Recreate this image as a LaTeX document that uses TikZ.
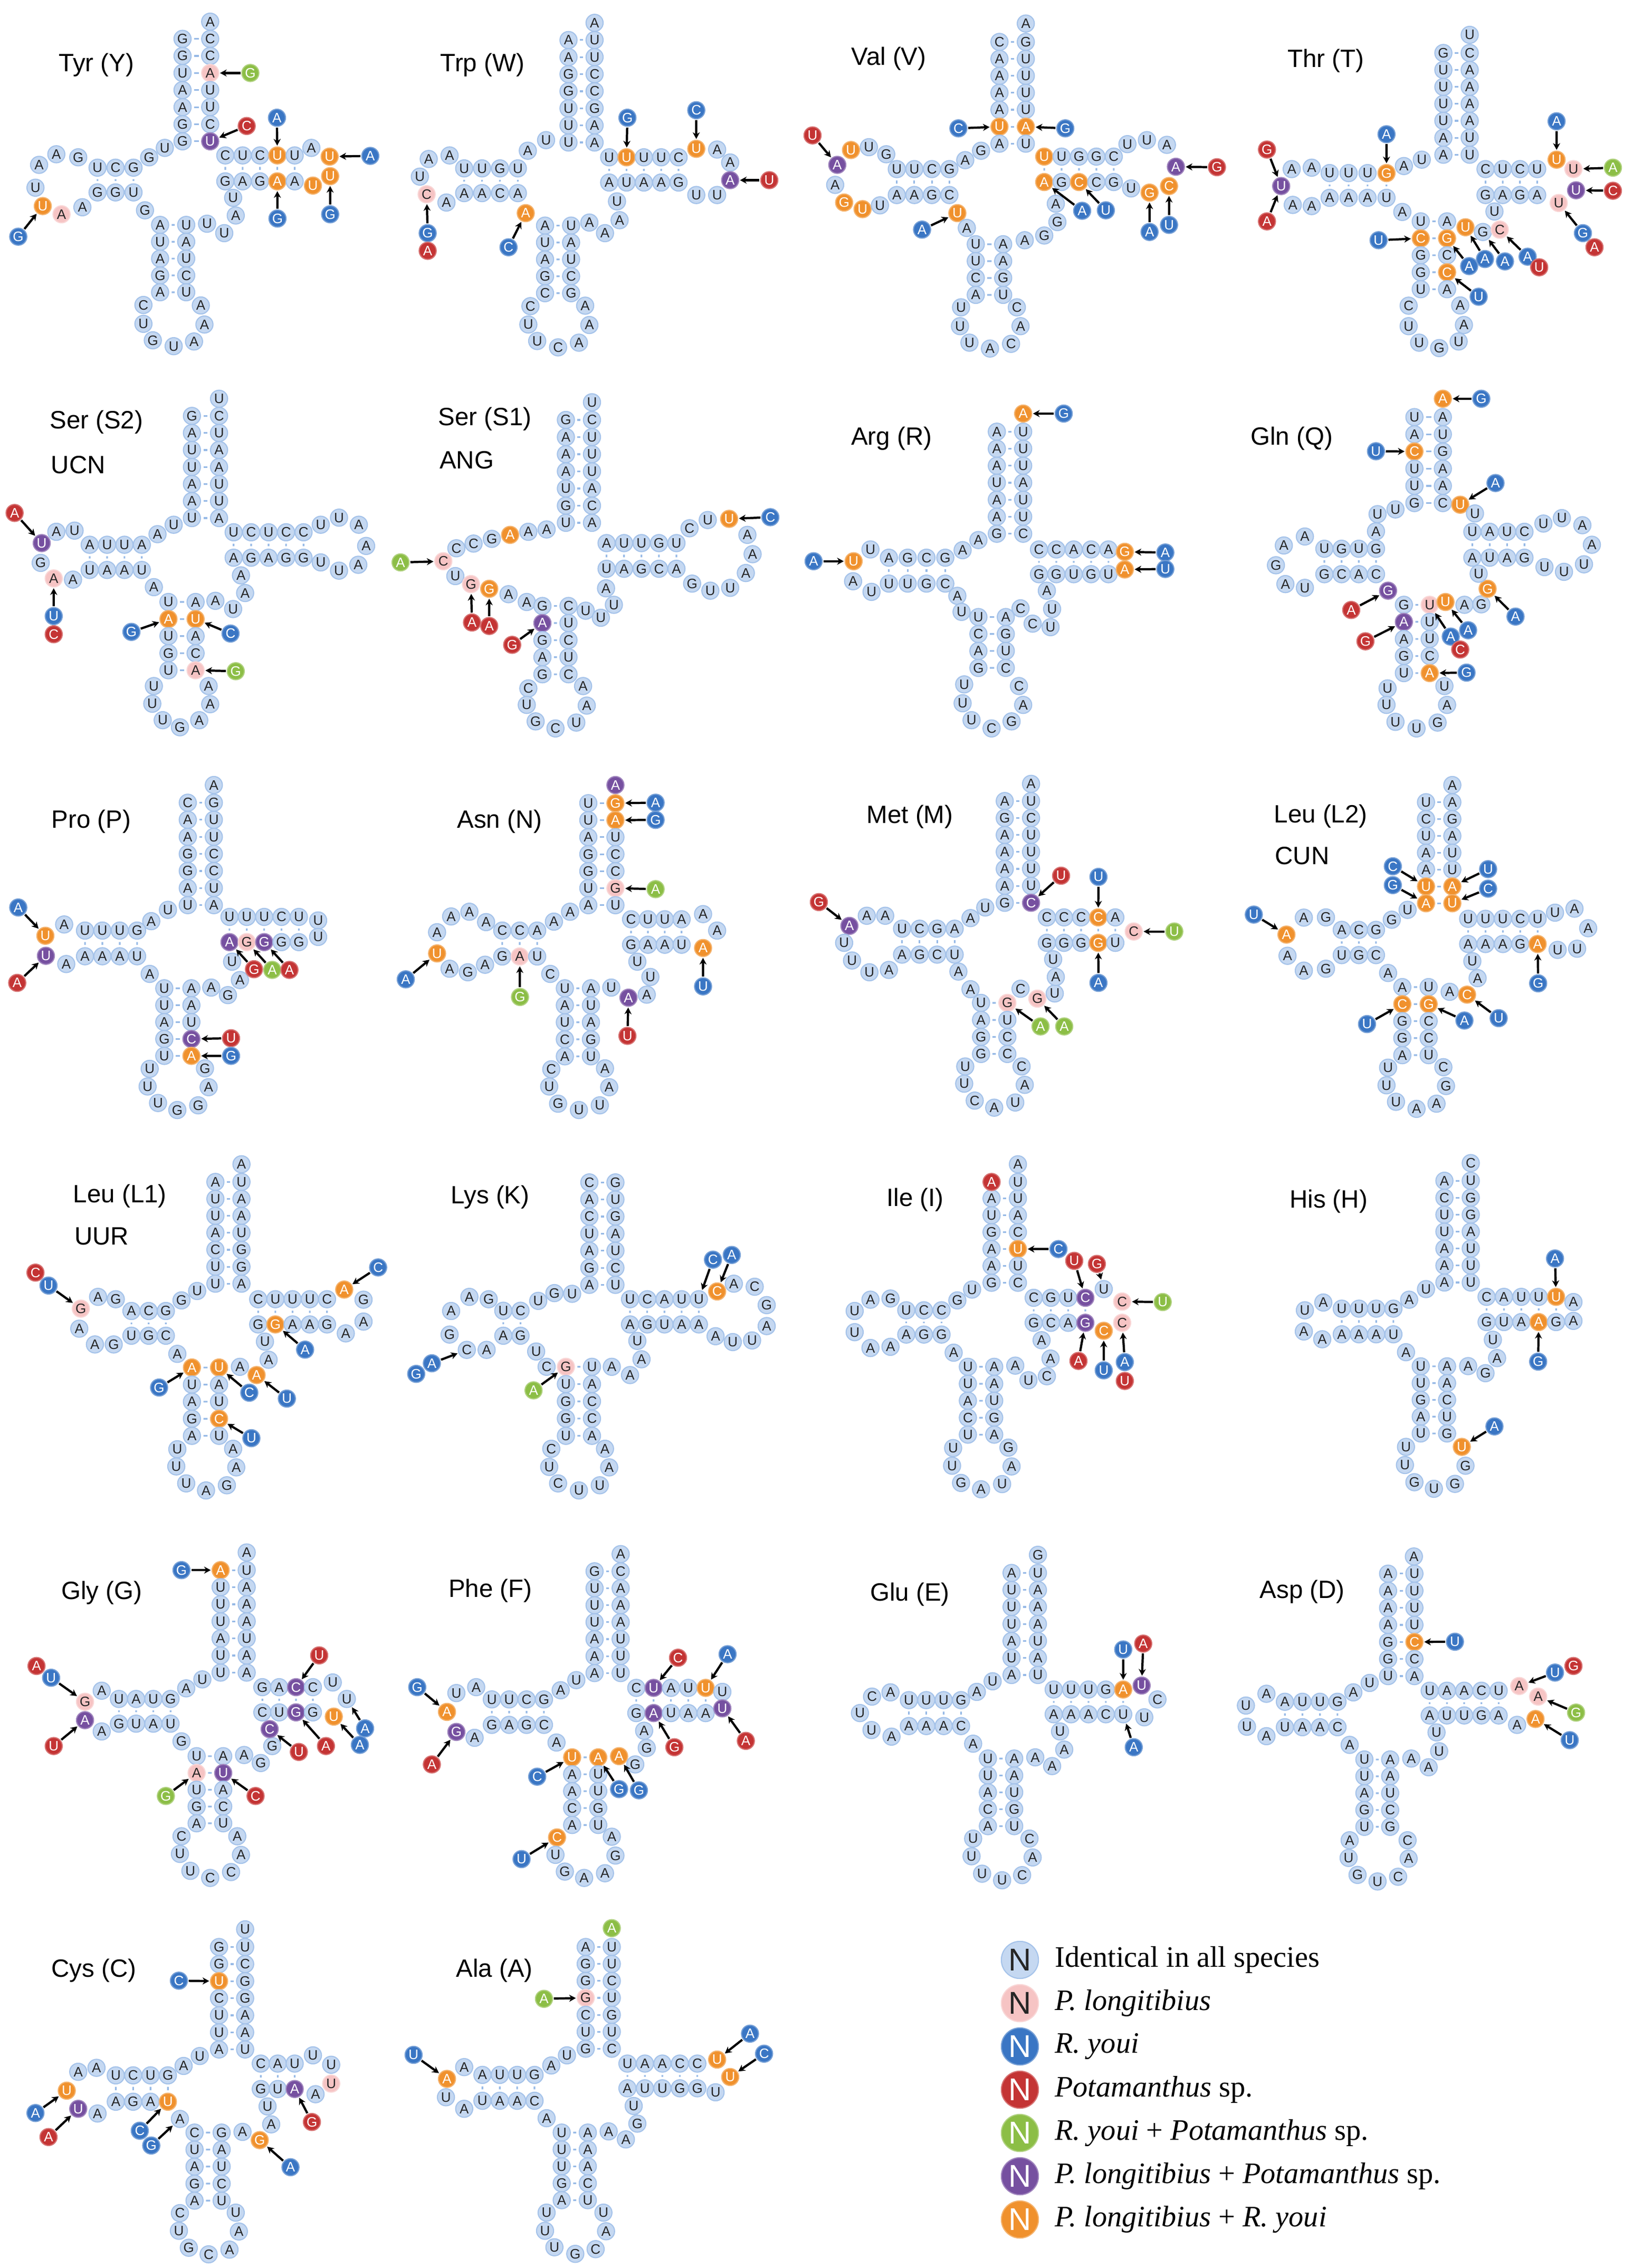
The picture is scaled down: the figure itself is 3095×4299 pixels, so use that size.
\documentclass[tikz,border=0pt]{standalone}
\usepackage{fontspec}
\setmainfont{Liberation Sans}
\newfontfamily\keyfont{Liberation Serif}
\usetikzlibrary{arrows.meta}

\definecolor{ntfill}{RGB}{197,216,241}
\definecolor{ntedge}{RGB}{165,195,234}
\definecolor{bondblue}{RGB}{150,185,230}
\definecolor{plong}{RGB}{246,196,196}
\definecolor{ryoui}{RGB}{58,118,196}
\definecolor{potam}{RGB}{196,52,52}
\definecolor{rypot}{RGB}{140,190,70}
\definecolor{plpot}{RGB}{118,80,160}
\definecolor{plry}{RGB}{240,145,45}

\tikzset{
  nt/.style={circle, inner sep=0pt, minimum size=9.2pt, line width=0.6pt, font=\fontsize{7.4}{7.4}\selectfont},
  ntn/.style={nt, fill=ntfill, draw=ntedge, text=black!85},
  ntp/.style={nt, fill=plong, draw=plong!70!white, text=black!85},
  ntb/.style={nt, fill=ryoui, draw=ryoui!70!white, text=white},
  ntr/.style={nt, fill=potam, draw=potam!70!white, text=white},
  ntg/.style={nt, fill=rypot, draw=rypot!70!white, text=white},
  ntv/.style={nt, fill=plpot, draw=plpot!70!white, text=white},
  nto/.style={nt, fill=plry, draw=plry!70!white, text=white},
  bond/.style={draw=bondblue, line width=0.9pt, shorten <=1.3pt, shorten >=1.3pt},
  subst/.style={draw=black, line width=1.2pt, -{Stealth[length=3.6pt,width=3.8pt]}, shorten <=0.4pt, shorten >=0.4pt},
  trnaname/.style={font=\fontsize{13.5}{16}\selectfont},
  keydot/.style={minimum size=20pt, font=\fontsize{17}{17}\selectfont},
  keytext/.style={anchor=west, font=\keyfont\fontsize{16}{19}\selectfont},
  zl/.style={shift={(0,#1)}, xscale=0.9885, yscale=0.4464},
  zr/.style={shift={(1530,#1)}, xscale=0.998, yscale=0.4464}
}

\def\ntsplit#1#2\relax{\ifx\relax#2\relax\def\ntcode{n}\def\ntletter{#1}\else\def\ntcode{#1}\def\ntletter{#2}\fi}
\newcommand\ntparse[1]{\expandafter\ntsplit#1\relax}
\newcommand\ntrow[6]{%
  \foreach \s [count=\k] in {#6}{%
    \ntparse{\s}%
    \edef\ntdo{\noexpand\node[nt\ntcode] (#1-\k) at ({#2+(\k-1)*(#4)},{#3+(\k-1)*(#5)}) {\ntletter};}%
    \ntdo}}
\newcommand\ntstem[9]{%
  \ntrow{#1-l}{#2}{#3}{#4}{#5}{#8}%
  \ntrow{#1-r}{#2+#6}{#3+#7}{#4}{#5}{#9}%
  \foreach \s [count=\k] in {#8}{\draw[bond] (#1-l-\k) -- (#1-r-\k);}}
\newcommand\ntpath[2]{%
  \foreach \px/\py/\s [count=\k] in {#2}{%
    \ntparse{\s}%
    \edef\ntdo{\noexpand\node[nt\ntcode] (#1-\k) at (\px,\py) {\ntletter};}%
    \ntdo}}
\newcommand\ntdot[4]{%
  \ntparse{#4}%
  \edef\ntdo{\noexpand\node[nt\ntcode] (#1) at (#2,#3) {\ntletter};}\ntdo}
\newcommand\ntmark[5]{%
  \ntdot{#1}{#2}{#3}{#4}%
  \draw[subst] (#1) -- (#5);}

\begin{document}
\begin{tikzpicture}[x=0.01cm, y=-0.01cm]
  \fill[white] (0,0) rectangle (3095,4299);
  \useasboundingbox (0,0) rectangle (3095,4299);

  % Tyr
  \begin{scope}[zl=0]
    \node[trnaname] (Y-name) at (185,275) {Tyr (Y)};
    \ntstem{Y-acc}{350}{165}{0}{72.5}{53}{0}{G,G,U,A,A,G,G}{C,C,pA,U,U,C,vU}
    \ntpath{Y-x}{403/92/A}
    \ntpath{Y-j1}{316/628/U,286/668/G}
    \ntstem{Y-d}{187}{712}{34.5}{0}{0}{105}{U,C,G}{G,G,U}
    \ntpath{Y-dl}{150/668/G,108/655/A,75/700/A,68/797/U,82/875/oU,118/910/pA,158/880/A}
    \ntpath{Y-j2}{278/893/G}
    \ntstem{Y-ac}{307}{955}{0}{71.5}{50}{0}{A,U,A,G,A}{U,A,U,C,U}
    \ntpath{Y-al}{275/1295/C,275/1375/U,293/1445/G,333/1470/U,372/1450/A,392/1378/A,385/1297/A}
    \ntpath{Y-v}{397/950/U,430/990/U,452/915/A,447/840/U}
    \ntstem{Y-t}{432}{660}{33.25}{0}{0}{110}{C,U,C,oU,U}{G,A,G,oA,A}
    \ntpath{Y-tl}{597/628/A,632/665/oU,633/748/oU,600/788/oU}
    \ntmark{Y-m1}{480}{310}{gG}{Y-acc-r-3}
    \ntmark{Y-m2}{473}{535}{rC}{Y-acc-r-7}
    \ntmark{Y-m3}{35}{1005}{bG}{Y-dl-5}
    \ntmark{Y-m4}{531}{500}{bA}{Y-t-l-4}
    \ntmark{Y-m5}{710}{662}{bA}{Y-tl-2}
    \ntmark{Y-m6}{532}{928}{bG}{Y-t-r-4}
    \ntmark{Y-m7}{633}{910}{bG}{Y-tl-3}
  \end{scope}

  % Trp
  \begin{scope}[zl=0]
    \node[trnaname] (W-name) at (925,275) {Trp (W)};
    \ntstem{W-acc}{1090}{170}{0}{72.5}{50}{0}{A,A,G,G,U,U,U}{U,U,C,C,G,A,A}
    \ntpath{W-x}{1140/97/A}
    \ntpath{W-j1}{1047/595/U,1012/640/A}
    \ntstem{W-d}{890}{715}{34.3}{0}{0}{105}{U,U,G,U}{A,A,C,A}
    \ntpath{W-dl}{862/660/A,822/675/A,805/750/U,818/825/pC,856/860/A}
    \ntpath{W-j2}{1008/905/oA}
    \ntstem{W-ac}{1045}{958}{0}{71.75}{50}{0}{A,U,A,G,C}{U,A,U,C,G}
    \ntpath{W-al}{1017/1300/C,1013/1378/U,1030/1448/U,1070/1475/C,1110/1455/A,1130/1380/A,1122/1298/A}
    \ntpath{W-v}{1130/945/A,1160/990/A,1188/935/A,1183/855/U}
    \ntstem{W-t}{1168}{668}{33.25}{0}{0}{107}{U,oU,U,U,C}{A,U,A,A,G}
    \ntpath{W-tl}{1335/632/oU,1375/635/A,1400/690/A,1400/765/vA,1375/828/U,1335/828/U}
    \ntmark{W-m1}{820}{990}{bG}{W-dl-4}
    \ntdot{W-m2}{820}{1065}{rA}
    \ntmark{W-m3}{975}{1050}{bC}{W-j2-1}
    \ntmark{W-m4}{1203}{500}{bG}{W-t-l-2}
    \ntmark{W-m5}{1335}{468}{bC}{W-tl-1}
    \ntmark{W-m6}{1475}{765}{rU}{W-tl-4}
  \end{scope}

  % Val
  \begin{scope}[zr=0]
    \node[trnaname] (V-name) at (155,250) {Val (V)};
    \ntstem{V-acc}{365}{178}{0}{72}{50}{0}{C,A,A,A,A,oU,A}{G,U,U,U,U,oA,U}
    \ntpath{V-x}{415/100/A}
    \ntpath{V-j1}{330/640/G,300/680/A}
    \ntstem{V-d}{170}{718}{33.3}{0}{0}{110}{U,U,C,G}{A,A,G,C}
    \ntpath{V-dl}{150/655/G,117/625/U,83/637/oU,57/700/vA,53/785/A,70/860/oG,105/888/oU,138/872/U}
    \ntpath{V-j2}{285/905/oU,303/968/A}
    \ntstem{V-ac}{320}{1037}{0}{71.7}{52}{0}{U,U,C,A}{A,A,G,U}
    \ntpath{V-al}{292/1305/U,290/1385/U,308/1455/U,347/1480/A,387/1460/C,405/1385/A,398/1305/C}
    \ntpath{V-v}{413/1020/A,450/1000/G,475/943/G,472/865/A}
    \ntstem{V-t}{450}{665}{33}{0}{0}{108}{oU,U,G,G,C}{oA,G,oC,C,G}
    \ntpath{V-tl}{608/612/U,645/595/U,683/615/A,700/708/vA,687/790/oC,650/818/oG,615/800/U}
    \ntmark{V-m1}{287}{545}{bC}{V-acc-l-6}
    \ntmark{V-m2}{490}{545}{bG}{V-acc-r-6}
    \ntmark{V-m3}{10}{575}{rU}{V-dl-4}
    \ntmark{V-m4}{218}{975}{bA}{V-j2-1}
    \ntmark{V-m5}{778}{710}{rG}{V-tl-4}
    \ntmark{V-m6}{650}{985}{bA}{V-tl-6}
    \ntmark{V-m7}{687}{955}{bU}{V-tl-5}
    \ntmark{V-m8}{522}{895}{bA}{V-t-r-1}
    \ntmark{V-m9}{567}{893}{bU}{V-t-r-3}
  \end{scope}

  % Thr
  \begin{scope}[zr=0]
    \node[trnaname] (T-name) at (985,258) {Thr (T)};
    \ntstem{T-acc}{1208}{225}{0}{72}{50}{0}{G,U,U,U,U,A,A}{C,A,A,A,A,U,U}
    \ntpath{T-x}{1258/148/U}
    \ntpath{T-j1}{1167/678/U,1133/705/A}
    \ntstem{T-d}{992}{735}{36}{0}{0}{105}{U,U,U,oG}{A,A,A,U}
    \ntpath{T-dl}{958/712/A,920/718/A,900/790/vU,922/870/A,958/875/A}
    \ntpath{T-j2}{1130/900/A}
    \ntstem{T-ac}{1165}{940}{0}{72}{50}{0}{U,oC,G,G,U}{A,oG,C,oC,A}
    \ntpath{T-al}{1142/1298/C,1142/1385/U,1162/1455/U,1200/1478/G,1237/1450/U,1247/1380/A,1240/1297/A}
    \ntpath{T-v}{1250/965/oU,1283/985/G,1315/975/pC,1305/898/U}
    \ntstem{T-t}{1288}{718}{32.7}{0}{0}{110}{C,U,C,U}{G,A,G,A}
    \ntpath{T-tl}{1423/678/oU,1455/718/pU,1460/808/vU,1427/862/pU}
    \ntmark{T-m1}{873}{635}{rG}{T-dl-3}
    \ntmark{T-m2}{873}{940}{rA}{T-dl-3}
    \ntmark{T-m3}{1100}{570}{bA}{T-d-l-4}
    \ntmark{T-m4}{1085}{1020}{bU}{T-ac-l-2}
    \ntmark{T-m5}{1257}{1130}{bA}{T-ac-r-2}
    \ntmark{T-m6}{1287}{1100}{bA}{T-v-1}
    \ntmark{T-m7}{1325}{1110}{bA}{T-v-2}
    \ntmark{T-m8}{1368}{1090}{bA}{T-v-3}
    \ntdot{T-m9}{1390}{1135}{rU}
    \ntmark{T-m10}{1275}{1260}{bU}{T-ac-r-4}
    \ntmark{T-m11}{1423}{515}{bA}{T-tl-1}
    \ntmark{T-m12}{1530}{712}{gA}{T-tl-2}
    \ntmark{T-m13}{1530}{810}{rC}{T-tl-3}
    \ntmark{T-m14}{1473}{990}{bG}{T-tl-4}
    \ntdot{T-m15}{1495}{1050}{rA}
  \end{scope}

  % Ser (S2)
  \begin{scope}[zl=700]
    \node[trnaname] (S2-name) at (185,225) {Ser (S2)};
    \node[trnaname] (S2-code) at (150,405) {UCN};
    \ntstem{S2-acc}{368}{198}{0}{72.3}{52}{0}{G,A,U,U,A,A,U}{C,U,A,A,U,U,A}
    \ntpath{S2-x}{420/125/U}
    \ntpath{S2-j1}{333/660/U,302/700/A}
    \ntstem{S2-d}{172}{745}{33.3}{0}{0}{107}{A,U,U,A}{U,A,A,U}
    \ntpath{S2-dl}{143/685/U,108/690/A,80/738/vU,78/822/G,103/888/pA,140/893/A}
    \ntpath{S2-j2}{295/925/A}
    \ntstem{S2-ac}{323}{988}{0}{72.5}{52}{0}{U,oA,U,G,U}{A,oU,A,C,pA}
    \ntpath{S2-al}{295/1345/U,292/1420/U,312/1490/U,345/1520/G,382/1490/A,403/1422/A,400/1345/A}
    \ntpath{S2-v}{413/983/A,447/1018/U,470/950/A,462/875/A}
    \ntstem{S2-t}{448}{692}{33.5}{0}{0}{108}{U,C,U,C,C}{A,G,A,G,G}
    \ntpath{S2-tl}{615/660/U,650/630/U,688/660/A,702/750/A,687/830/A,650/855/U,615/820/U}
    \ntmark{S2-m1}{28}{610}{rA}{S2-dl-3}
    \ntmark{S2-m2}{103}{1048}{bU}{S2-dl-5}
    \ntdot{S2-m3}{103}{1125}{rC}
    \ntmark{S2-m4}{252}{1115}{bG}{S2-ac-l-2}
    \ntmark{S2-m5}{442}{1122}{bC}{S2-ac-r-2}
    \ntmark{S2-m6}{452}{1282}{gG}{S2-ac-r-5}
  \end{scope}

  % Ser (S1)
  \begin{scope}[zl=700]
    \node[trnaname] (S1-name) at (930,210) {Ser (S1)};
    \node[trnaname] (S1-code) at (895,385) {ANG};
    \ntstem{S1-acc}{1085}{215}{0}{72.8}{50}{0}{G,A,A,A,U,G,U}{C,U,U,U,A,C,A}
    \ntpath{S1-x}{1135/140/U}
    \ntpath{S1-j1}{1048/680/A,1013/690/A,978/703/oA,943/720/G,908/740/C,875/760/C,850/815/pC,873/878/U,903/912/pG,938/932/oG,975/955/A,1010/988/A}
    \ntstem{S1-ac}{1040}{1005}{0}{72.5}{50}{0}{G,vA,G,A,G}{C,U,C,U,C}
    \ntpath{S1-al}{1013/1355/C,1010/1425/U,1027/1495/G,1065/1525/C,1105/1500/U,1125/1428/A,1118/1345/A}
    \ntpath{S1-v}{1123/1025/U,1152/1055/U,1177/1000/U,1162/930/A}
    \ntstem{S1-t}{1163}{738}{33.5}{0}{0}{109}{A,U,U,G,U}{U,A,G,C,A}
    \ntpath{S1-tl}{1322/675/C,1357/640/U,1398/635/oU,1433/703/A,1443/785/A,1430/865/A,1400/928/U,1362/940/U,1327/910/G}
    \ntmark{S1-m1}{768}{820}{gA}{S1-j1-7}
    \ntmark{S1-m2}{905}{1075}{rA}{S1-j1-9}
    \ntmark{S1-m3}{938}{1090}{rA}{S1-j1-10}
    \ntmark{S1-m4}{982}{1170}{rG}{S1-ac-l-2}
    \ntmark{S1-m5}{1477}{628}{bC}{S1-tl-3}
  \end{scope}

  % Arg
  \begin{scope}[zr=700]
    \node[trnaname] (R-name) at (160,295) {Arg (R)};
    \ntstem{R-acc}{360}{265}{0}{72.2}{50}{0}{A,A,A,U,A,A,G}{U,U,U,A,U,U,C}
    \ntpath{R-x}{410/188/oA}
    \ntpath{R-j1}{325/725/A,295/768/A}
    \ntstem{R-d}{155}{800}{35.7}{0}{0}{110}{A,G,C,G}{U,U,G,C}
    \ntpath{R-dl}{120/765/U,88/815/oU,87/900/A,122/945/U}
    \ntpath{R-j2}{285/962/A,293/1030/U}
    \ntstem{R-ac}{325}{1052}{0}{72}{52}{0}{U,C,A,G}{A,G,U,C}
    \ntpath{R-al}{298/1338/U,295/1418/U,312/1490/U,350/1525/C,388/1495/G,410/1425/A,402/1345/C}
    \ntpath{R-v}{405/1015/C,428/1080/C,462/1095/U,465/1018/U,455/940/A}
    \ntstem{R-t}{440}{765}{33}{0}{0}{105}{C,C,A,C,A}{G,G,U,G,U}
    \ntpath{R-tl}{603/775/oG,603/850/oA}
    \ntmark{R-m1}{487}{188}{bG}{R-x-1}
    \ntmark{R-m2}{12}{815}{bA}{R-dl-2}
    \ntmark{R-m3}{680}{778}{bA}{R-tl-1}
    \ntmark{R-m4}{680}{848}{bU}{R-tl-2}
  \end{scope}

  % Gln
  \begin{scope}[zr=700]
    \node[trnaname] (Q-name) at (920,295) {Gln (Q)};
    \ntstem{Q-acc}{1153}{203}{0}{73}{54}{0}{U,A,oC,U,U,G}{A,U,G,A,A,C}
    \ntpath{Q-x}{1207/125/oA}
    \ntpath{Q-j1}{1117/595/U,1083/615/U,1080/688/A}
    \ntstem{Q-d}{982}{762}{32.7}{0}{0}{108}{U,G,U,G}{G,C,A,C}
    \ntpath{Q-dl}{945/710/A,905/748/A,890/832/G,908/912/A,945/928/U}
    \ntpath{Q-j2}{1103/940/vG}
    \ntstem{Q-ac}{1133}{1000}{0}{72.5}{49}{0}{G,vA,A,G,U}{pU,U,U,C,oA}
    \ntpath{Q-al}{1102/1355/U,1100/1425/U,1117/1497/U,1157/1525/U,1197/1500/G,1215/1425/A,1210/1345/U}
    \ntpath{Q-v}{1212/988/oU,1248/1000/A,1280/998/G,1292/932/oG,1275/868/U}
    \ntstem{Q-t}{1263}{690}{33}{0}{0}{110}{U,A,U,C}{A,U,A,G}
    \ntpath{Q-tl}{1398/655/U,1433/632/U,1472/662/A,1490/745/A,1475/828/U,1437/860/U,1400/840/U}
    \ntpath{Q-j3}{1240/575/oU,1268/612/U}
    \ntmark{Q-m1}{1280}{125}{bG}{Q-x-1}
    \ntmark{Q-m2}{1080}{348}{bU}{Q-acc-l-3}
    \ntmark{Q-m3}{1307}{483}{bA}{Q-j3-1}
    \ntmark{Q-m4}{1033}{1022}{rA}{Q-j2-1}
    \ntmark{Q-m5}{1060}{1155}{rG}{Q-ac-l-2}
    \ntmark{Q-m6}{1252}{1288}{bG}{Q-ac-r-5}
    \ntmark{Q-m7}{1222}{1135}{bA}{Q-ac-r-1}
    \ntdot{Q-m8}{1240}{1190}{rC}
    \ntmark{Q-m9}{1255}{1108}{bA}{Q-v-1}
    \ntmark{Q-m10}{1345}{1050}{bA}{Q-v-4}
  \end{scope}

  % Pro
  \begin{scope}[zl=1430]
    \node[trnaname] (P-name) at (175,285) {Pro (P)};
    \ntstem{P-acc}{360}{205}{0}{72.5}{50}{0}{C,A,A,G,G,A,U}{G,U,U,C,C,U,A}
    \ntpath{P-x}{410/130/A}
    \ntpath{P-j1}{322/660/U,290/708/A}
    \ntstem{P-d}{163}{748}{33.3}{0}{0}{109}{U,U,U,G}{A,A,A,U}
    \ntpath{P-dl}{123/722/A,87/770/oU,88/855/vU,127/890/A}
    \ntpath{P-j2}{287/932/A}
    \ntstem{P-ac}{315}{993}{0}{71.75}{52}{0}{U,U,A,G,U}{A,A,U,vC,oA}
    \ntpath{P-al}{287/1335/U,283/1410/U,303/1480/U,340/1510/G,380/1490/G,400/1413/A,393/1333/G}
    \ntpath{P-v}{405/990/A,437/1022/G,460/958/A,445/880/U}
    \ntstem{P-t}{440}{690}{33.25}{0}{0}{107}{U,U,U,C,U}{vA,pG,vG,G,G}
    \ntpath{P-tl}{610/705/U,610/775/U}
    \ntmark{P-m1}{35}{650}{bA}{P-dl-2}
    \ntmark{P-m2}{33}{970}{rA}{P-dl-3}
    \ntmark{P-m3}{443}{1205}{rU}{P-ac-r-4}
    \ntmark{P-m4}{443}{1280}{bG}{P-ac-r-5}
    \ntmark{P-m5}{487}{912}{rG}{P-t-r-1}
    \ntmark{P-m6}{522}{915}{gA}{P-t-r-2}
    \ntmark{P-m7}{555}{915}{rA}{P-t-r-3}
  \end{scope}

  % Asn
  \begin{scope}[zl=1430]
    \node[trnaname] (N-name) at (958,285) {Asn (N)};
    \ntstem{N-acc}{1128}{207}{0}{72.2}{52}{0}{U,U,A,G,G,U,A}{oG,oA,U,C,C,pG,U}
    \ntpath{N-x}{1180/130/vA}
    \ntpath{N-j1}{1093/668/A,1062/710/A}
    \ntstem{N-d}{963}{748}{33.5}{0}{0}{110}{C,C,A}{G,pA,U}
    \ntpath{N-dl}{932/712/A,900/668/A,865/688/A,838/755/A,838/845/oU,862/910/A,897/925/G,930/893/A}
    \ntpath{N-j2}{1055/932/C}
    \ntstem{N-ac}{1083}{993}{0}{72.25}{50}{0}{U,A,U,C,A}{A,U,A,G,U}
    \ntpath{N-al}{1057/1337/C,1053/1410/U,1070/1483/G,1110/1510/U,1150/1490/U,1168/1413/A,1160/1333/A}
    \ntpath{N-v}{1172/990/U,1205/1033/vA,1240/1020/A,1247/945/U,1222/880/U}
    \ntstem{N-t}{1210}{700}{32.3}{0}{0}{108}{C,U,U,A}{G,A,A,U}
    \ntpath{N-tl}{1348/678/A,1375/748/A,1348/822/oA}
    \ntmark{N-m1}{1257}{205}{bA}{N-acc-r-1}
    \ntmark{N-m2}{1257}{278}{bG}{N-acc-r-2}
    \ntmark{N-m3}{1257}{572}{gA}{N-acc-r-6}
    \ntmark{N-m4}{778}{955}{bA}{N-dl-5}
    \ntmark{N-m5}{997}{1030}{gG}{N-d-r-2}
    \ntmark{N-m6}{1203}{1195}{rU}{N-v-2}
    \ntmark{N-m7}{1348}{985}{bU}{N-tl-3}
  \end{scope}

  % Met
  \begin{scope}[zr=1430]
    \node[trnaname] (M-name) at (195,265) {Met (M)};
    \ntstem{M-acc}{375}{198}{0}{72}{50}{0}{A,G,A,A,A,A,G}{U,C,U,U,U,U,vC}
    \ntpath{M-x}{425/125/A}
    \ntpath{M-j1}{338/650/U,310/695/A}
    \ntstem{M-d}{180}{740}{33.3}{0}{0}{110}{U,C,G,A}{A,G,C,U}
    \ntpath{M-dl}{148/685/A,113/685/A,80/728/vA,70/800/U,85/875/U,118/925/U,155/915/A}
    \ntpath{M-j2}{287/922/A,310/997/A}
    \ntstem{M-ac}{330}{1055}{0}{72.3}{50}{0}{U,A,G,G}{pG,U,C,C}
    \ntpath{M-al}{300/1325/U,298/1398/U,318/1470/C,355/1500/A,395/1478/U,413/1403/A,407/1325/C}
    \ntpath{M-v}{405/995/C,437/1037/pG,470/1015/U,472/945/A,467/870/U}
    \ntstem{M-t}{455}{692}{32.5}{0}{0}{108}{C,C,C,oC,A}{G,G,G,oG,U}
    \ntpath{M-tl}{620/752/pC}
    \ntmark{M-m1}{482}{515}{rU}{M-acc-r-7}
    \ntmark{M-m2}{22}{627}{rG}{M-dl-3}
    \ntmark{M-m3}{443}{1155}{gA}{M-ac-r-1}
    \ntmark{M-m4}{488}{1155}{gA}{M-v-2}
    \ntmark{M-m5}{697}{752}{gU}{M-tl-1}
    \ntmark{M-m6}{553}{520}{bU}{M-t-l-4}
    \ntmark{M-m7}{553}{970}{bA}{M-t-r-4}
  \end{scope}

  % Leu (L2)
  \begin{scope}[zr=1430]
    \node[trnaname] (L2-name) at (975,262) {Leu (L2)};
    \node[trnaname] (L2-code) at (940,430) {CUN};
    \ntstem{L2-acc}{1175}{203}{0}{71.5}{50}{0}{U,C,U,A,A,oU,oA}{A,G,A,U,U,oA,oU}
    \ntpath{L2-x}{1225/130/A}
    \ntpath{L2-j1}{1140/660/U,1110/702/G}
    \ntstem{L2-d}{1015}{745}{32.5}{0}{0}{107}{A,C,G}{U,G,C}
    \ntpath{L2-dl}{985/692/G,943/693/A,910/765/oA,912/855/A,943/918/A,985/910/G}
    \ntpath{L2-j2}{1103/928/A}
    \ntstem{L2-ac}{1130}{988}{0}{72.25}{50}{0}{A,oC,G,G,A}{U,oG,C,C,U}
    \ntpath{L2-al}{1103/1330/U,1100/1405/U,1118/1475/U,1157/1505/A,1195/1483/A,1213/1408/G,1208/1328/C}
    \ntpath{L2-v}{1220/1008/A,1253/1020/oC,1273/950/A,1263/878/U}
    \ntstem{L2-t}{1255}{698}{33}{0}{0}{107}{U,U,U,C,U}{A,A,A,G,oA}
    \ntpath{L2-tl}{1420/672/U,1457/655/A,1483/738/A,1462/825/U,1425/830/U}
    \ntmark{L2-m1}{1112}{475}{bC}{L2-acc-l-6}
    \ntmark{L2-m2}{1112}{555}{bG}{L2-acc-l-7}
    \ntmark{L2-m3}{1293}{487}{bU}{L2-acc-r-6}
    \ntmark{L2-m4}{1293}{570}{bC}{L2-acc-r-7}
    \ntmark{L2-m5}{848}{680}{bU}{L2-dl-3}
    \ntmark{L2-m6}{1063}{1145}{bU}{L2-ac-l-2}
    \ntmark{L2-m7}{1248}{1130}{bA}{L2-ac-r-2}
    \ntmark{L2-m8}{1313}{1120}{bU}{L2-v-2}
    \ntmark{L2-m9}{1388}{972}{bG}{L2-t-r-5}
  \end{scope}

  % Leu (L1)
  \begin{scope}[zl=2160]
    \node[trnaname] (L1-name) at (230,240) {Leu (L1)};
    \node[trnaname] (L1-code) at (195,410) {UUR};
    \ntstem{L1-acc}{413}{180}{0}{72}{50}{0}{A,U,U,A,C,U,U}{U,A,A,U,G,G,A}
    \ntpath{L1-x}{463/105/A}
    \ntpath{L1-j1}{378/643/U,348/683/G}
    \ntstem{L1-d}{252}{728}{33}{0}{0}{105}{A,C,G}{U,G,C}
    \ntpath{L1-dl}{222/678/G,188/668/A,155/718/pG,152/803/A,182/870/A,218/870/G}
    \ntpath{L1-j2}{340/910/A}
    \ntstem{L1-ac}{368}{968}{0}{72.5}{52}{0}{oA,U,A,G,A}{oU,A,U,oC,U}
    \ntpath{L1-al}{340/1315/U,338/1388/U,357/1460/U,395/1490/A,435/1468/G,453/1392/A,447/1313/A}
    \ntpath{L1-v}{460/965/A,492/1000/oA,515/935/A,508/858/U}
    \ntstem{L1-t}{495}{678}{33}{0}{0}{107}{C,U,U,U,C}{G,oG,A,A,G}
    \ntpath{L1-tl}{660/637/oA,697/680/G,697/773/A,663/823/A}
    \ntmark{L1-m1}{93}{620}{bU}{L1-dl-3}
    \ntdot{L1-m2}{68}{565}{rC}
    \ntmark{L1-m3}{305}{1053}{bG}{L1-ac-l-1}
    \ntmark{L1-m4}{478}{1075}{bC}{L1-ac-r-1}
    \ntmark{L1-m5}{482}{1268}{bU}{L1-ac-r-4}
    \ntmark{L1-m6}{550}{1100}{bU}{L1-v-2}
    \ntmark{L1-m7}{725}{543}{bC}{L1-tl-1}
    \ntmark{L1-m8}{585}{892}{bA}{L1-t-r-2}
  \end{scope}

  % Lys
  \begin{scope}[zl=2160]
    \node[trnaname] (K-name) at (940,245) {Lys (K)};
    \ntstem{K-acc}{1130}{182}{0}{72.5}{50}{0}{C,A,C,U,A,G,A}{G,U,G,A,U,C,U}
    \ntpath{K-j1}{1097/655/U,1063/652/G,1032/685/U}
    \ntstem{K-d}{965}{727}{33}{0}{0}{106}{U,C}{A,G}
    \ntpath{K-dl}{937/678/G,900/668/A,865/728/A,862/828/G,895/893/C,933/893/A}
    \ntpath{K-j2}{1028/900/U,1048/965/C}
    \ntstem{K-ac}{1085}{965}{0}{73.25}{50}{0}{pG,U,G,G,U}{U,A,C,C,A}
    \ntpath{K-al}{1057/1313/C,1053/1390/U,1070/1460/C,1110/1490/U,1150/1468/U,1168/1392/A,1160/1313/A}
    \ntpath{K-v}{1173/965/A,1208/1000/A,1230/933/A,1222/855/U}
    \ntstem{K-t}{1208}{678}{33}{0}{0}{107}{U,C,A,U,U}{A,G,U,A,A}
    \ntpath{K-tl}{1375/645/oC,1407/612/A,1447/625/C,1470/703/G,1470/792/A,1442/853/U,1405/860/U,1372/835/A}
    \ntmark{K-m1}{828}{950}{bA}{K-dl-5}
    \ntdot{K-m2}{798}{995}{bG}
    \ntmark{K-m3}{1023}{1065}{gA}{K-ac-l-1}
    \ntmark{K-m4}{1367}{510}{bC}{K-t-l-5}
    \ntmark{K-m5}{1403}{490}{bA}{K-tl-1}
  \end{scope}

  % Ile
  \begin{scope}[zr=2160]
    \node[trnaname] (I-name) at (205,255) {Ile (I)};
    \ntstem{I-acc}{350}{250}{0}{71.6}{50}{0}{A,U,G,A,A,G}{U,A,C,oU,U,C}
    \ntpath{I-x}{400/105/A,400/180/U,350/180/rA}
    \ntpath{I-j1}{313/637/U,285/683/G}
    \ntstem{I-d}{188}{725}{33.5}{0}{0}{103}{U,C,C}{A,G,G}
    \ntpath{I-dl}{158/675/G,120/680/A,90/728/U,90/818/U,120/885/A,158/880/A}
    \ntpath{I-j2}{278/905/A}
    \ntstem{I-ac}{305}{965}{0}{72}{50}{0}{U,U,A,C,U}{A,A,U,G,A}
    \ntpath{I-al}{277/1310/U,275/1385/U,292/1458/G,330/1485/A,370/1463/U,388/1388/A,382/1308/G}
    \ntpath{I-v}{395/960/A,420/1022/U,455/1005/C,462/930/A,445/852/A}
    \ntstem{I-t}{430}{672}{32.7}{0}{0}{106}{C,G,U,vC}{G,C,A,vG}
    \ntpath{I-tl}{563/635/U,598/688/pC,598/778/pC,563/812/oC}
    \ntmark{I-m1}{477}{465}{bC}{I-acc-r-4}
    \ntmark{I-m2}{507}{515}{rU}{I-t-l-4}
    \ntmark{I-m3}{550}{528}{rG}{I-tl-1}
    \ntmark{I-m4}{675}{690}{gU}{I-tl-2}
    \ntmark{I-m5}{515}{940}{rA}{I-t-r-4}
    \ntmark{I-m6}{563}{980}{bU}{I-tl-4}
    \ntmark{I-m7}{603}{945}{bA}{I-tl-3}
    \ntdot{I-m8}{603}{1025}{rU}
  \end{scope}

  % His
  \begin{scope}[zr=2160]
    \node[trnaname] (H-name) at (990,262) {His (H)};
    \ntstem{H-acc}{1210}{175}{0}{72}{50}{0}{A,C,U,U,A,A,A}{U,G,G,A,U,U,U}
    \ntpath{H-x}{1260/100/C}
    \ntpath{H-j1}{1175/635/U,1143/680/A}
    \ntstem{H-d}{1015}{718}{32.7}{0}{0}{109}{U,U,U,G}{A,A,A,U}
    \ntpath{H-dl}{980/692/A,945/725/U,943/815/A,978/848/A}
    \ntpath{H-j2}{1137/903/A}
    \ntstem{H-ac}{1165}{963}{0}{71.25}{50}{0}{U,U,G,A,U}{A,A,C,U,G}
    \ntpath{H-al}{1137/1305/U,1135/1382/U,1153/1455/G,1190/1483/U,1230/1462/G,1250/1385/G,1243/1305/oU}
    \ntpath{H-v}{1255/962/A,1288/992/G,1310/928/A,1302/850/U}
    \ntstem{H-t}{1290}{668}{33}{0}{0}{107}{C,A,U,U,oU}{G,U,A,oA,G}
    \ntpath{H-tl}{1455/690/A,1455/770/A}
    \ntmark{H-m1}{1305}{1218}{bA}{H-al-7}
    \ntmark{H-m2}{1420}{505}{bA}{H-t-l-5}
    \ntmark{H-m3}{1388}{943}{bG}{H-t-r-4}
  \end{scope}

  % Gly
  \begin{scope}[zl=2890]
    \node[trnaname] (G-name) at (195,290) {Gly (G)};
    \ntstem{G-acc}{423}{193}{0}{72.5}{50}{0}{oA,U,U,U,A,U,U}{U,A,A,A,U,A,A}
    \ntpath{G-x}{473/118/A}
    \ntpath{G-j1}{388/657/U,357/695/A}
    \ntstem{G-d}{228}{740}{33}{0}{0}{105}{U,A,U,G}{G,U,A,U}
    \ntpath{G-dl}{195/705/A,163/752/pG,163/830/vA,195/878/A}
    \ntpath{G-j2}{348/920/G}
    \ntstem{G-ac}{377}{983}{0}{71.25}{51}{0}{U,pA,U,G,A}{A,vU,A,C,U}
    \ntpath{G-al}{348/1323/C,345/1398/U,365/1470/U,403/1500/C,443/1475/C,462/1402/A,455/1323/A}
    \ntpath{G-v}{468/978/A,500/1012/G,522/940/G,517/868/vC}
    \ntstem{G-t}{503}{690}{32.3}{0}{0}{107}{G,A,vC,C}{C,U,vG,G}
    \ntpath{G-tl}{638/670/U,665/740/U,640/815/oU}
    \ntmark{G-m1}{348}{193}{bG}{G-acc-l-1}
    \ntmark{G-m2}{98}{650}{bU}{G-dl-2}
    \ntdot{G-m3}{70}{600}{rA}
    \ntmark{G-m4}{103}{940}{rU}{G-dl-3}
    \ntmark{G-m5}{318}{1152}{gG}{G-ac-l-2}
    \ntmark{G-m6}{490}{1152}{rC}{G-ac-r-2}
    \ntmark{G-m7}{573}{965}{rU}{G-v-4}
    \ntmark{G-m8}{612}{555}{rU}{G-t-l-3}
    \ntmark{G-m9}{625}{940}{rA}{G-t-r-3}
    \ntmark{G-m10}{700}{865}{bA}{G-tl-2}
    \ntmark{G-m11}{690}{935}{bA}{G-tl-3}
  \end{scope}

  % Phe
  \begin{scope}[zl=2890]
    \node[trnaname] (F-name) at (940,280) {Phe (F)};
    \ntstem{F-acc}{1140}{198}{0}{72}{50}{0}{G,U,U,U,A,A,A}{C,A,A,A,U,U,U}
    \ntpath{F-x}{1190/125/A}
    \ntpath{F-j1}{1105/660/U,1075/703/A}
    \ntstem{F-d}{943}{742}{33.3}{0}{0}{108}{U,U,C,G}{G,A,G,C}
    \ntpath{F-dl}{913/690/A,875/715/U,857/795/oA,875/880/vG,910/905/A}
    \ntpath{F-j2}{1067/925/A}
    \ntstem{F-ac}{1097}{988}{0}{71.75}{50}{0}{oU,A,A,C,A}{oA,U,U,G,U}
    \ntpath{F-al}{1068/1328/oC,1065/1402/U,1083/1473/G,1120/1500/A,1160/1480/A,1180/1405/G,1173/1325/A}
    \ntpath{F-v}{1187/983/oA,1218/1018/G,1240/948/G,1235/875/A}
    \ntstem{F-t}{1220}{693}{33.25}{0}{0}{107}{C,vU,A,U,oU}{G,vA,U,A,A}
    \ntpath{F-tl}{1385/710/U,1385/780/vU}
    \ntmark{F-m1}{800}{690}{bG}{F-dl-3}
    \ntmark{F-m2}{828}{1018}{rA}{F-dl-4}
    \ntmark{F-m3}{1030}{1070}{bC}{F-ac-l-1}
    \ntmark{F-m4}{1187}{1123}{bG}{F-ac-r-1}
    \ntmark{F-m5}{1225}{1128}{bG}{F-v-1}
    \ntmark{F-m6}{1000}{1420}{bU}{F-al-1}
    \ntmark{F-m7}{1300}{565}{rC}{F-t-l-2}
    \ntmark{F-m8}{1395}{550}{bA}{F-t-l-5}
    \ntmark{F-m9}{1293}{945}{rG}{F-t-r-2}
    \ntmark{F-m10}{1430}{918}{rA}{F-tl-2}
  \end{scope}

  % Glu
  \begin{scope}[zr=2890]
    \node[trnaname] (E-name) at (195,295) {Glu (E)};
    \ntstem{E-acc}{388}{205}{0}{72.2}{50}{0}{A,U,U,U,A,U,A}{U,A,A,A,U,A,U}
    \ntpath{E-x}{438/128/G}
    \ntpath{E-j1}{352/665/U,322/710/A}
    \ntstem{E-d}{193}{745}{33}{0}{0}{110}{U,U,U,G}{A,A,A,C}
    \ntpath{E-dl}{158/712/A,123/730/C,100/800/U,122/872/U,160/900/A}
    \ntpath{E-j2}{315/930/A}
    \ntstem{E-ac}{343}{993}{0}{71.75}{50}{0}{U,U,A,C,A}{A,A,U,G,U}
    \ntpath{E-al}{315/1333/U,312/1408/U,332/1482/U,370/1510/U,408/1488/C,428/1413/A,422/1333/C}
    \ntpath{E-v}{433/988/A,465/1025/A,488/955/A,480/878/U}
    \ntstem{E-t}{468}{700}{33}{0}{0}{105}{U,U,U,G,oA}{A,A,A,C,U}
    \ntpath{E-tl}{635/683/vU,665/742/C,640/818/U}
    \ntmark{E-m1}{600}{530}{bU}{E-t-l-5}
    \ntmark{E-m2}{638}{505}{rA}{E-tl-1}
    \ntmark{E-m3}{620}{945}{bA}{E-t-r-5}
  \end{scope}

  % Asp
  \begin{scope}[zr=2890]
    \node[trnaname] (D-name) at (940,285) {Asp (D)};
    \ntstem{D-acc}{1103}{208}{0}{72.5}{50}{0}{A,A,A,A,G,G,U}{U,U,U,U,oC,C,A}
    \ntpath{D-x}{1152/135/A}
    \ntpath{D-j1}{1068/672/U,1037/712/A}
    \ntstem{D-d}{907}{752}{33.3}{0}{0}{108}{A,U,U,G}{U,A,A,C}
    \ntpath{D-dl}{872/718/A,833/768/U,835/858/U,872/898/A}
    \ntpath{D-j2}{1030/935/A}
    \ntstem{D-ac}{1058}{997}{0}{71.5}{49}{0}{U,U,A,G,U}{A,A,U,C,G}
    \ntpath{D-al}{1030/1340/A,1028/1415/U,1045/1487/G,1083/1515/U,1122/1495/C,1142/1418/A,1140/1340/C}
    \ntpath{D-v}{1147/993/A,1180/1030/A,1200/962/U,1195/882/U}
    \ntstem{D-t}{1182}{705}{32.75}{0}{0}{105}{U,A,A,C,U}{A,U,U,G,A}
    \ntpath{D-tl}{1352/685/pA,1388/730/pA,1383/825/oA,1348/850/A}
    \ntmark{D-m1}{1230}{497}{bU}{D-acc-r-5}
    \ntmark{D-m2}{1420}{628}{bU}{D-tl-1}
    \ntdot{D-m3}{1455}{600}{rG}
    \ntmark{D-m4}{1460}{798}{gG}{D-tl-2}
    \ntmark{D-m5}{1448}{915}{bU}{D-tl-3}
  \end{scope}

  % Cys
  \begin{scope}[zl=3599]
    \node[trnaname] (C-name) at (180,305) {Cys (C)};
    \ntstem{C-acc}{420}{205}{0}{72.5}{50}{0}{G,G,oU,C,U,U,A}{U,C,G,G,A,A,U}
    \ntpath{C-x}{470/130/U}
    \ntpath{C-j1}{383/668/U,352/710/A}
    \ntstem{C-d}{222}{750}{33.3}{0}{0}{112}{U,C,U,G}{A,G,A,oU}
    \ntpath{C-dl}{185/718/A,150/735/A,128/815/oU,150/892/vU,187/912/A}
    \ntpath{C-j2}{345/935/A}
    \ntstem{C-ac}{373}{993}{0}{72.25}{52}{0}{C,U,A,G,A}{G,A,U,C,U}
    \ntpath{C-al}{345/1335/C,343/1410/U,362/1482/G,400/1510/C,440/1490/A,458/1413/A,452/1333/U}
    \ntpath{C-v}{465/990/A,498/1025/oG,520/958/A,513/882/U}
    \ntstem{C-t}{500}{700}{32.5}{0}{0}{108}{C,A,U}{G,U,vA}
    \ntpath{C-tl}{600/665/U,635/705/U,635/785/pU,605/830/A}
    \ntmark{C-m1}{343}{348}{bC}{C-acc-l-3}
    \ntmark{C-m2}{68}{910}{bA}{C-dl-3}
    \ntmark{C-m3}{93}{1012}{rA}{C-dl-4}
    \ntmark{C-m4}{268}{985}{bC}{C-d-r-4}
    \ntmark{C-m5}{290}{1048}{bG}{C-j2-1}
    \ntmark{C-m6}{557}{1140}{bA}{C-v-2}
    \ntmark{C-m7}{598}{948}{rG}{C-t-r-3}
  \end{scope}

  % Ala
  \begin{scope}[zl=3599]
    \node[trnaname] (A-name) at (948,305) {Ala (A)};
    \ntstem{A-acc}{1123}{205}{0}{72}{50}{0}{A,G,G,pG,C,U,G}{U,U,C,U,G,U,C}
    \ntpath{A-x}{1173/125/gA}
    \ntpath{A-j1}{1087/665/U,1057/708/A}
    \ntstem{A-d}{925}{748}{33.3}{0}{0}{110}{A,U,U,G}{U,A,A,C}
    \ntpath{A-dl}{890/715/A,857/765/oA,855/843/U,890/892/A}
    \ntpath{A-j2}{1048/932/A}
    \ntstem{A-ac}{1077}{993}{0}{71.75}{50}{0}{U,U,U,G,A}{A,A,A,C,U}
    \ntpath{A-al}{1048/1333/U,1045/1410/U,1063/1480/U,1103/1508/G,1142/1488/C,1162/1412/A,1157/1333/U}
    \ntpath{A-v}{1167/988/A,1200/1022/A,1222/955/G,1215/880/U}
    \ntstem{A-t}{1203}{700}{33.5}{0}{0}{105}{U,A,A,C,C}{A,U,U,G,G}
    \ntpath{A-tl}{1375/683/oU,1400/757/oU,1372/822/U}
    \ntmark{A-m1}{1043}{425}{gA}{A-acc-l-4}
    \ntmark{A-m2}{793}{663}{bU}{A-dl-2}
    \ntmark{A-m3}{1438}{573}{bA}{A-tl-1}
    \ntmark{A-m4}{1465}{658}{bC}{A-tl-2}
  \end{scope}

  % legend
  \node[ntn, keydot] (key-n) at (1933,3715) {N};
  \node[ntp, keydot] (key-p) at (1933,3797) {N};
  \node[ntb, keydot] (key-b) at (1933,3879) {N};
  \node[ntr, keydot] (key-r) at (1933,3961) {N};
  \node[ntg, keydot] (key-g) at (1933,4043) {N};
  \node[ntv, keydot] (key-v) at (1933,4125) {N};
  \node[nto, keydot] (key-o) at (1933,4207) {N};
  \node[keytext] at (1987,3715) {Identical in all species};
  \node[keytext] at (1987,3797) {\textit{P. longitibius}};
  \node[keytext] at (1987,3879) {\textit{R. youi}};
  \node[keytext] at (1987,3961) {\textit{Potamanthus} sp.};
  \node[keytext] at (1987,4043) {\textit{R. youi} + \textit{Potamanthus} sp.};
  \node[keytext] at (1987,4125) {\textit{P. longitibius} + \textit{Potamanthus} sp.};
  \node[keytext] at (1987,4207) {\textit{P. longitibius} + \textit{R. youi}};
\end{tikzpicture}
\end{document}
